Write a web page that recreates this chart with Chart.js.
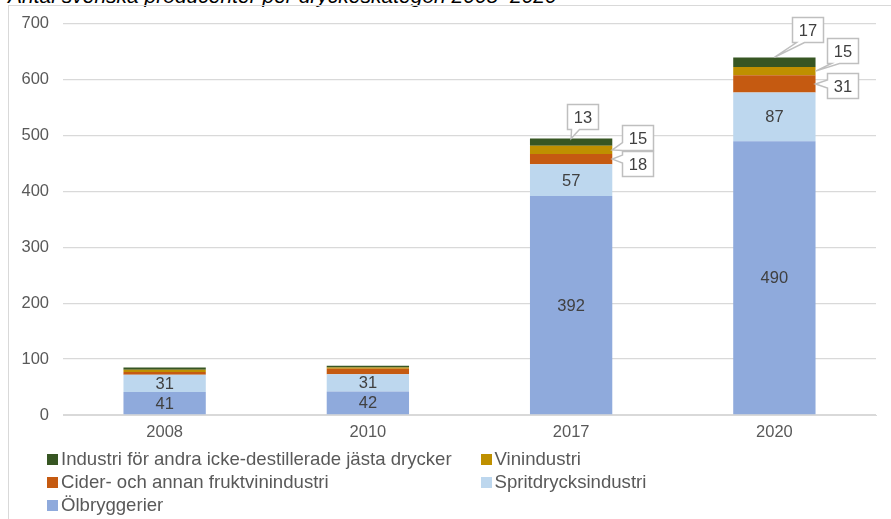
<!DOCTYPE html>
<html>
<head>
<meta charset="utf-8">
<script src="https://cdn.jsdelivr.net/npm/chart.js@4/dist/chart.umd.min.js"></script>
<style>
  html, body { margin: 0; padding: 0; background: #fff; }
  body { width: 891px; height: 519px; position: relative; overflow: hidden; font-family: "Liberation Sans", Arial, sans-serif; }
  #frame { position: absolute; left: 8px; top: 5px; width: 900px; height: 600px; border-left: 1px solid #d9d9d9; border-top: 1px solid #d9d9d9; }
  #title { position: absolute; left: 8px; top: -15px; font-size: 21px; line-height: 1; font-style: italic; color: #000; white-space: nowrap; }
  #chartWrap { position: absolute; left: 0; top: 0; width: 891px; height: 519px; }
  #legend { position: absolute; left: 0; top: 0; width: 891px; height: 519px; pointer-events: none; }
  .lg { position: absolute; height: 22px; display: flex; align-items: center; white-space: nowrap; }
  .lg .sw { width: 11px; height: 11px; margin-right: 3px; flex: none; }
  .lg .tx { font-size: 18.6px; color: #595959; display: inline-block; }
</style>
</head>
<body>
<div id="title">Antal svenska producenter per dryckeskategori 2008–2020</div>
<div id="frame"></div>
<div id="chartWrap"><canvas id="c" width="891" height="519"></canvas></div>
<div id="legend"></div>
<script>
// ---- data ----
const categories = ["2008", "2010", "2017", "2020"];
const olbryggerier = [41, 42, 392, 490];
const spritdrycksindustri = [31, 31, 57, 87];
const ciderFruktvin = [5, 10, 18, 31];
const vinindustri = [4, 2, 15, 15];
const andraJasta = [4, 3, 13, 17];
const yTicks = [0, 100, 200, 300, 400, 500, 600, 700];

const seriesNames = [
  "Ölbryggerier",
  "Spritdrycksindustri",
  "Cider- och annan fruktvinindustri",
  "Vinindustri",
  "Industri för andra icke-destillerade jästa drycker"
];
const seriesColors = ["#8FAADC", "#BDD7EE", "#C55A11", "#BF9000", "#375623"];
const seriesData = [olbryggerier, spritdrycksindustri, ciderFruktvin, vinindustri, andraJasta];

// Which labels are shown inside the bars, and which as callouts
const insideLabelSeries = [0, 1];
// callouts: series index, category index, anchor type, box offset from anchor
const callouts = [
  { s: 4, c: 2, anchor: "top",   dx: 11, dy: -22 },
  { s: 3, c: 2, anchor: "right", dx: 25, dy: -12 },
  { s: 2, c: 2, anchor: "right", dx: 25, dy: 4.5 },
  { s: 4, c: 3, anchor: "top",   dx: 33, dy: -28 },
  { s: 3, c: 3, anchor: "right", dx: 27, dy: -21 },
  { s: 2, c: 3, anchor: "right", dx: 27, dy: 2 }
];

const FONT = '"Liberation Sans", Arial, sans-serif';

const labelPlugin = {
  id: "labels",
  afterDatasetsDraw(chart) {
    const ctx = chart.ctx;
    ctx.save();
    ctx.font = "16.5px " + FONT;
    ctx.fillStyle = "#404040";
    ctx.textAlign = "center";
    ctx.textBaseline = "middle";
    insideLabelSeries.forEach(si => {
      const meta = chart.getDatasetMeta(si);
      meta.data.forEach((el, i) => {
        const v = chart.data.datasets[si].data[i];
        ctx.fillText(String(v), el.x, (el.y + el.base) / 2 + 1);
      });
    });
    const bw = 31, bh = 25, hw = 4;
    callouts.forEach(co => {
      const el = chart.getDatasetMeta(co.s).data[co.c];
      const v = chart.data.datasets[co.s].data[co.c];
      let ax, ay;
      if (co.anchor === "top") { ax = el.x; ay = el.y; }
      else { ax = el.x + el.width / 2; ay = (el.y + el.base) / 2; }
      const cx = ax + co.dx, cy = ay + co.dy;
      const x0 = Math.round(cx - bw / 2) + 0.5, x1 = x0 + bw;
      const y0 = Math.round(cy - bh / 2) + 0.5, y1 = y0 + bh;
      ctx.beginPath();
      ctx.moveTo(x0, y0);
      ctx.lineTo(x1, y0);
      ctx.lineTo(x1, y1);
      if (ay > y1) {
        const bx = Math.min(Math.max(ax, x0 + 8), x1 - 8);
        ctx.lineTo(bx + hw, y1);
        ctx.lineTo(ax, ay);
        ctx.lineTo(bx - hw, y1);
        ctx.lineTo(x0, y1);
        ctx.lineTo(x0, y0);
      } else {
        ctx.lineTo(x0, y1);
        const by = Math.min(Math.max(ay, y0 + 4), y1 - 4);
        ctx.lineTo(x0, by + hw);
        ctx.lineTo(ax, ay);
        ctx.lineTo(x0, by - hw);
        ctx.lineTo(x0, y0);
      }
      ctx.closePath();
      ctx.fillStyle = "#ffffff";
      ctx.fill();
      ctx.strokeStyle = "#bfbfbf";
      ctx.lineWidth = 1.5;
      ctx.stroke();
      ctx.fillStyle = "#404040";
      ctx.fillText(String(v), (x0 + x1) / 2, (y0 + y1) / 2 + 1);
    });
    ctx.restore();
  }
};

const datasets = seriesData.map((d, i) => ({
  label: seriesNames[i],
  data: d,
  backgroundColor: seriesColors[i],
  borderWidth: 0,
  barPercentage: 0.405,
  categoryPercentage: 1.0,
  stack: "s"
}));

new Chart(document.getElementById("c"), {
  type: "bar",
  data: { labels: categories, datasets },
  options: {
    responsive: false,
    animation: false,
    layout: { padding: { left: 0, right: 15, top: 23, bottom: 0 } },
    plugins: { legend: { display: false }, title: { display: false }, tooltip: { enabled: false } },
    scales: {
      x: {
        stacked: true,
        grid: { display: false, drawTicks: false },
        border: { display: true, color: "#d9d9d9" },
        ticks: { padding: 8, color: "#595959", font: { family: FONT, size: 16.5 } },
        afterFit(scale) { scale.height = 104; }
      },
      y: {
        stacked: true,
        min: 0, max: 700,
        afterBuildTicks(scale) { scale.ticks = yTicks.map(v => ({ value: v })); },
        grid: { color: "#d9d9d9", lineWidth: 1.3, drawTicks: false },
        border: { display: false },
        ticks: { padding: 14, color: "#595959", font: { family: FONT, size: 16.5 } },
        afterFit(scale) { scale.width = 63; }
      }
    }
  },
  plugins: [labelPlugin]
});

// ---- legend (HTML) ----
const legendOrder = [4, 3, 2, 1, 0];
const legendPos = [
  { x: 47, y: 459 }, { x: 480.5, y: 459 },
  { x: 47, y: 482 }, { x: 480.5, y: 482 },
  { x: 47, y: 505 }
];
const lg = document.getElementById("legend");
legendOrder.forEach((si, k) => {
  const d = document.createElement("div");
  d.className = "lg";
  d.style.left = legendPos[k].x + "px";
  d.style.top = (legendPos[k].y - 11) + "px";
  const sw = document.createElement("span");
  sw.className = "sw";
  sw.style.background = seriesColors[si];
  const tx = document.createElement("span");
  tx.className = "tx";
  tx.textContent = seriesNames[si];
  d.appendChild(sw); d.appendChild(tx);
  lg.appendChild(d);
});
</script>
</body>
</html>
